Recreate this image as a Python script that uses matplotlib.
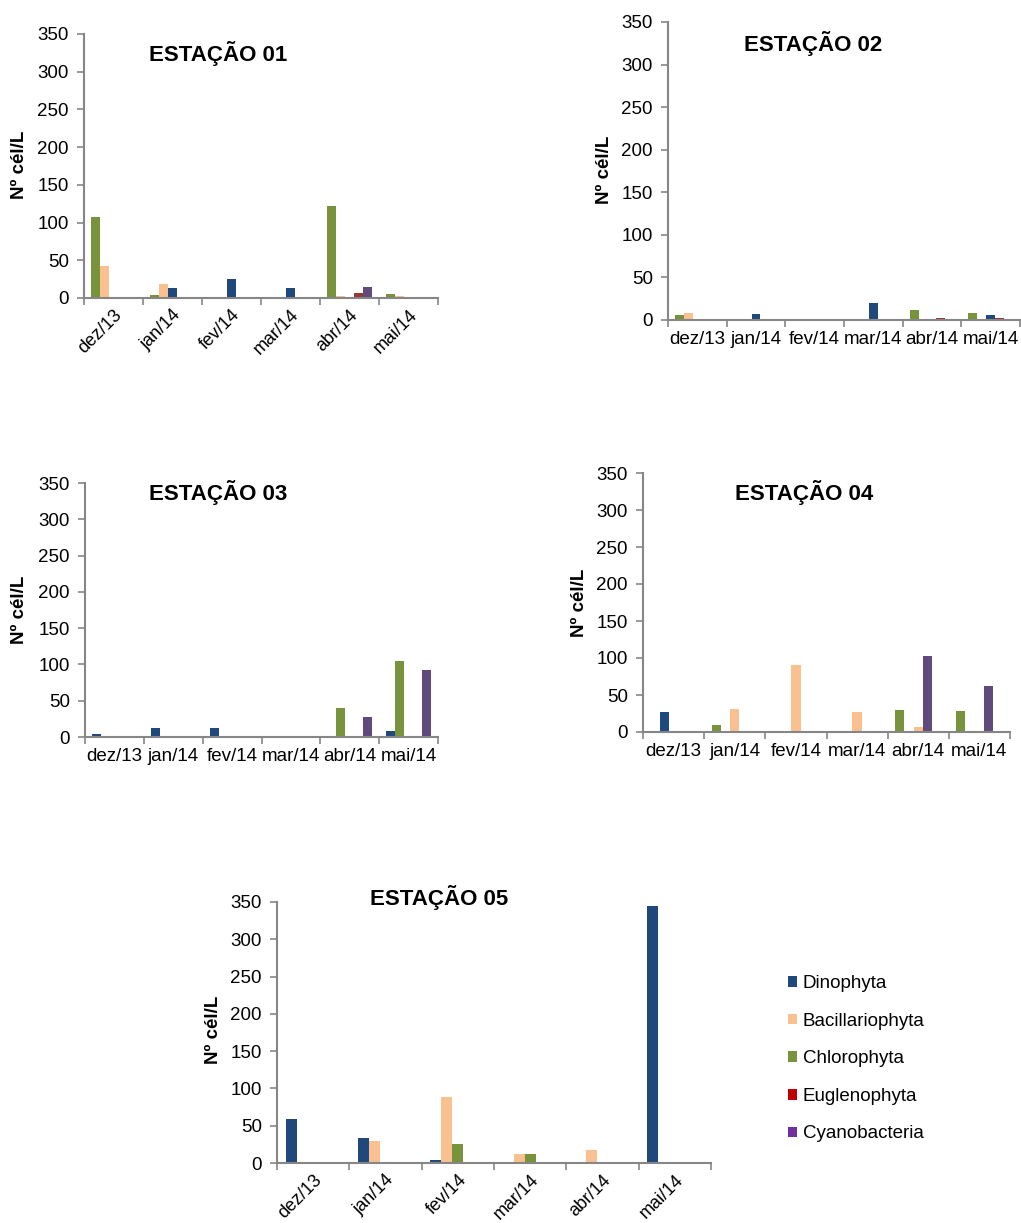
import numpy as np
import matplotlib
matplotlib.use("Agg")
import matplotlib.pyplot as plt
from matplotlib.patches import Patch

plt.rcParams['font.family'] = ['Liberation Sans', 'DejaVu Sans']

months = ["dez/13", "jan/14", "fev/14", "mar/14", "abr/14", "mai/14"]
groups = ["Dinophyta", "Bacillariophyta", "Chlorophyta", "Euglenophyta", "Cyanobacteria"]

# bar colours (as drawn) and legend colours (as shown in the key)
bar_colors = {"Dinophyta": "#1F497D", "Bacillariophyta": "#FAC090",
              "Chlorophyta": "#77933C", "Euglenophyta": "#953735",
              "Cyanobacteria": "#604A7B"}
legend_colors = ["#1F497D", "#FAC090", "#77933C", "#C00000", "#7030A0"]

# Estação 01
dino1 = [0, 13, 25, 13, 0, 0]
bac1 = [43, 19, 0, 0, 3, 2]
chl1 = [107, 4, 0, 1.5, 122, 5]
eug1 = [0, 0, 0, 0, 7, 0]
cya1 = [0, 0, 0, 0, 14, 1]

# Estação 02
dino2 = [0, 7, 1, 20, 0, 6]
bac2 = [8, 0, 0, 0, 0, 0]
chl2 = [6, 0, 0, 0, 12, 8]
eug2 = [0, 0, 0, 0, 2, 2]
cya2 = [0, 0, 0, 0, 0, 1]

# Estação 03
dino3 = [4, 12, 13, 0, 0, 8]
chl3 = [0, 0, 0, 0, 40, 105]
bac3 = [1, 1, 2, 2, 1, 1]
eug3 = [0, 0, 0, 0, 0, 0]
cya3 = [0, 0, 0, 0, 27, 93]

# Estação 04
chl4 = [0, 10, 0, 0, 30, 29]
dino4 = [27, 1, 0, 0, 0, 1]
bac4 = [1, 31, 90, 27, 7, 1]
cya4 = [0, 0, 0, 0, 103, 62]
eug4 = [0, 0, 0, 0, 0, 0]

# Estação 05
dino5 = [59, 33, 4, 1, 2, 345]
bac5 = [0, 30, 88, 12, 17, 1]
chl5 = [0, 0, 25, 12.5, 2, 0]
eug5 = [0, 0, 0, 0, 0, 0]
cya5 = [0, 0, 0, 0, 0, 0]

# series in the order they sit in each cluster
stations = [
    ("ESTAÇÃO 01", [("Chlorophyta", chl1), ("Bacillariophyta", bac1), ("Dinophyta", dino1),
                    ("Euglenophyta", eug1), ("Cyanobacteria", cya1)]),
    ("ESTAÇÃO 02", [("Chlorophyta", chl2), ("Bacillariophyta", bac2), ("Dinophyta", dino2),
                    ("Euglenophyta", eug2), ("Cyanobacteria", cya2)]),
    ("ESTAÇÃO 03", [("Dinophyta", dino3), ("Chlorophyta", chl3), ("Bacillariophyta", bac3),
                    ("Euglenophyta", eug3), ("Cyanobacteria", cya3)]),
    ("ESTAÇÃO 04", [("Chlorophyta", chl4), ("Dinophyta", dino4), ("Bacillariophyta", bac4),
                    ("Cyanobacteria", cya4), ("Euglenophyta", eug4)]),
    ("ESTAÇÃO 05", [("Dinophyta", dino5), ("Bacillariophyta", bac5), ("Chlorophyta", chl5),
                    ("Euglenophyta", eug5), ("Cyanobacteria", cya5)]),
]

W, H = 1021, 1223
fig = plt.figure(figsize=(W / 100, H / 100), dpi=100)


def px_axes(left, top, right, bottom):
    return fig.add_axes([left / W, 1 - bottom / H, (right - left) / W, (bottom - top) / H])


# panel boxes in pixels: left, top, right, bottom
boxes = [(84, 34, 438, 298), (668, 22, 1020, 320), (85, 483, 438, 737),
         (643, 473, 1010, 732), (277, 902, 711, 1163)]
title_pos = [(218, 54), (813, 43), (218, 492), (804, 492), (439, 898)]
ylab_pos = [(20, 165), (604, 170), (20, 610), (580, 603), (213, 1030)]
rotated = [True, False, False, False, True]

axis_gray = "#868686"
w = 0.152
x = np.arange(len(months))

for (title, series), box, tp, yp, rot in zip(stations, boxes, title_pos, ylab_pos, rotated):
    ax = px_axes(*box)
    n = len(series)
    start = -0.5 + (1 - n * w) / 2
    for k, (name, vals) in enumerate(series):
        ax.bar(x + start + (k + 0.5) * w, vals, width=w, color=bar_colors[name],
               edgecolor="none", zorder=2)

    ax.set_xlim(-0.5, len(months) - 0.5)
    ax.set_ylim(0, 350)
    ax.set_yticks(np.arange(0, 351, 50))
    ax.set_xticks(x)
    ax.set_xticks(np.arange(-0.5, len(months)), minor=True)
    ax.tick_params(axis="x", which="major", length=0, labelsize=13.5, pad=8)
    ax.tick_params(axis="x", which="minor", length=5, width=1.2, color=axis_gray)
    ax.tick_params(axis="y", length=5, width=1.2, color=axis_gray, labelsize=13.5, pad=6)
    if rot:
        ax.set_xticklabels(months, rotation=45, ha="right", va="top", rotation_mode="anchor")
        ax.tick_params(axis="x", which="major", labelsize=13, pad=6)
    else:
        ax.set_xticklabels(months)

    for s in ["top", "right"]:
        ax.spines[s].set_visible(False)
    for s in ["left", "bottom"]:
        ax.spines[s].set_color(axis_gray)
        ax.spines[s].set_linewidth(1.5)

    fig.text(tp[0] / W, 1 - tp[1] / H, title, fontsize=16, fontweight="bold",
             ha="center", va="center")
    fig.text(yp[0] / W, 1 - yp[1] / H, "Nº cél/L", fontsize=13.5, fontweight="bold",
             rotation=90, ha="center", va="center")

handles = [Patch(facecolor=c, edgecolor="none") for c in legend_colors]
fig.legend(handles, groups, loc="upper left", bbox_to_anchor=(788 / W, 1 - 975 / H),
           frameon=False, fontsize=13.5, handlelength=0.5, handleheight=0.5,
           handletextpad=0.3, labelspacing=1.1, borderpad=0, borderaxespad=0)

fig.savefig("out.png", dpi=100, facecolor="white")
